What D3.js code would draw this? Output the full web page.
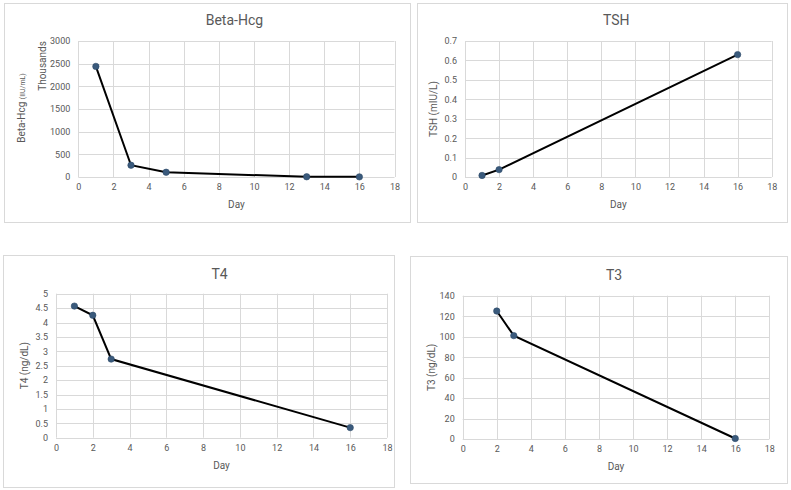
<!DOCTYPE html>
<html>
<head>
<meta charset="utf-8">
<script src="https://cdn.jsdelivr.net/npm/d3@7"></script>
<style>
  body { margin: 0; background: #fff; }
  svg text { font-family: Roboto, "Liberation Sans", sans-serif; fill: #595959; }
</style>
</head>
<body>
<div id="chart"></div>
<script>
// data
var hcgDays = [1, 3, 5, 13, 16];
var hcgValues = [2440, 260, 105, 5, 3];   // thousands
var tshDays = [1, 2, 16];
var tshValues = [0.008, 0.038, 0.63];
var t4Days = [1, 2, 3, 16];
var t4Values = [4.57, 4.25, 2.73, 0.35];
var t3Days = [2, 3, 16];
var t3Values = [125, 101, 0.5];

var xTicks = [0, 2, 4, 6, 8, 10, 12, 14, 16, 18];

var svg = d3.select("#chart").append("svg")
  .attr("width", 791)
  .attr("height", 490);

// one panel per hormone
var panels = [
  { title: "Beta-Hcg", days: hcgDays, values: hcgValues, yMax: 3000, yStep: 500,
    box: [4, 3, 406, 219], plot: [78.3, 41, 394.5, 177], titleY: 25 },
  { title: "TSH", days: tshDays, values: tshValues, yMax: 0.7, yStep: 0.1,
    box: [417, 3, 370, 219], plot: [465, 41, 771.7, 177], titleY: 25, ylabel: "TSH (mIU/L)" },
  { title: "T4", days: t4Days, values: t4Values, yMax: 5, yStep: 0.5,
    box: [3, 255, 391, 232], plot: [56, 293.7, 387, 437.7], titleY: 279, ylabel: "T4 (ng/dL)" },
  { title: "T3", days: t3Days, values: t3Values, yMax: 140, yStep: 20,
    box: [410, 256, 377, 227], plot: [462.7, 295.7, 769.3, 439], titleY: 280, ylabel: "T3 (ng/dL)" }
];

panels.forEach(function(p, i) {
  var g = svg.append("g");

  g.append("rect")
    .attr("x", p.box[0] + 0.5)
    .attr("y", p.box[1] + 0.5)
    .attr("width", p.box[2])
    .attr("height", p.box[3])
    .attr("fill", "#fff")
    .attr("stroke", "#d9d9d9")
    .attr("stroke-width", 1);

  var x = d3.scaleLinear().domain([0, 18]).range([p.plot[0], p.plot[2]]);
  var y = d3.scaleLinear().domain([0, p.yMax]).range([p.plot[3], p.plot[1]]);
  var yTicks = d3.range(0, p.yMax + p.yStep / 2, p.yStep);

  // grid
  g.append("g").selectAll("line.h")
    .data(yTicks)
    .enter().append("line")
    .attr("x1", p.plot[0]).attr("x2", p.plot[2])
    .attr("y1", d => Math.round(y(d)) + 0.5).attr("y2", d => Math.round(y(d)) + 0.5)
    .attr("stroke", "#d9d9d9");
  g.append("g").selectAll("line.v")
    .data(xTicks)
    .enter().append("line")
    .attr("x1", d => Math.round(x(d)) + 0.5).attr("x2", d => Math.round(x(d)) + 0.5)
    .attr("y1", p.plot[1]).attr("y2", p.plot[3])
    .attr("stroke", "#d9d9d9");

  // axes with library, ticks hidden
  var xAxis = g.append("g")
    .attr("transform", `translate(0, ${p.plot[3]})`)
    .call(d3.axisBottom(x).tickValues(xTicks).tickSize(0).tickPadding(7).tickFormat(d3.format("d")));
  var yFmt = p.yStep < 1 ? (d => d === 0 ? "0" : d3.format(".1f")(d)) : d3.format("d");
  if (p.yStep === 0.5) yFmt = d => d3.format("~g")(d);
  var yAxis = g.append("g")
    .attr("transform", `translate(${p.plot[0]}, 0)`)
    .call(d3.axisLeft(y).tickValues(yTicks).tickSize(0).tickPadding(8).tickFormat(yFmt));
  [xAxis, yAxis].forEach(function(a) {
    a.select(".domain").remove();
    a.selectAll("text").style("font-size", "9px").attr("fill", "#595959")
      .style("font-family", "Roboto, 'Liberation Sans', sans-serif");
  });

  // titles
  g.append("text")
    .attr("x", (p.plot[0] + p.plot[2]) / 2 - 2)
    .attr("y", p.titleY)
    .attr("text-anchor", "middle")
    .style("font-size", "14px")
    .text(p.title);

  g.append("text")
    .attr("x", (p.plot[0] + p.plot[2]) / 2)
    .attr("y", p.plot[3] + 31)
    .attr("text-anchor", "middle")
    .style("font-size", "10px")
    .text("Day");

  var ymid = (p.plot[1] + p.plot[3]) / 2;
  if (p.ylabel) {
    g.append("text")
      .attr("transform", `translate(${p.plot[0] - 28}, ${ymid}) rotate(-90)`)
      .attr("text-anchor", "middle")
      .style("font-size", "10px")
      .text(p.ylabel);
  } else {
    var lab = g.append("text")
      .attr("transform", `translate(${p.plot[0] - 53}, 108) rotate(-90)`)
      .attr("text-anchor", "middle")
      .style("font-size", "10px");
    lab.append("tspan").text("Beta-Hcg ");
    lab.append("tspan").style("font-size", "7px").text("(IIU/mL)");
    g.append("text")
      .attr("transform", `translate(${p.plot[0] - 32}, 66) rotate(-90)`)
      .attr("text-anchor", "middle")
      .style("font-size", "10px")
      .text("Thousands");
  }

  var pts = p.days.map((d, k) => [d, p.values[k]]);
  g.append("path")
    .datum(pts)
    .attr("fill", "none")
    .attr("stroke", "#000")
    .attr("stroke-width", 2)
    .attr("d", d3.line().x(d => x(d[0])).y(d => y(d[1])));

  g.selectAll("circle")
    .data(pts)
    .enter().append("circle")
    .attr("cx", d => x(d[0]))
    .attr("cy", d => y(d[1]))
    .attr("r", 3.2)
    .attr("fill", "#3a5a7c")
    .attr("stroke", "#2e4a68")
    .attr("stroke-width", 0.6);
});
</script>
</body>
</html>
